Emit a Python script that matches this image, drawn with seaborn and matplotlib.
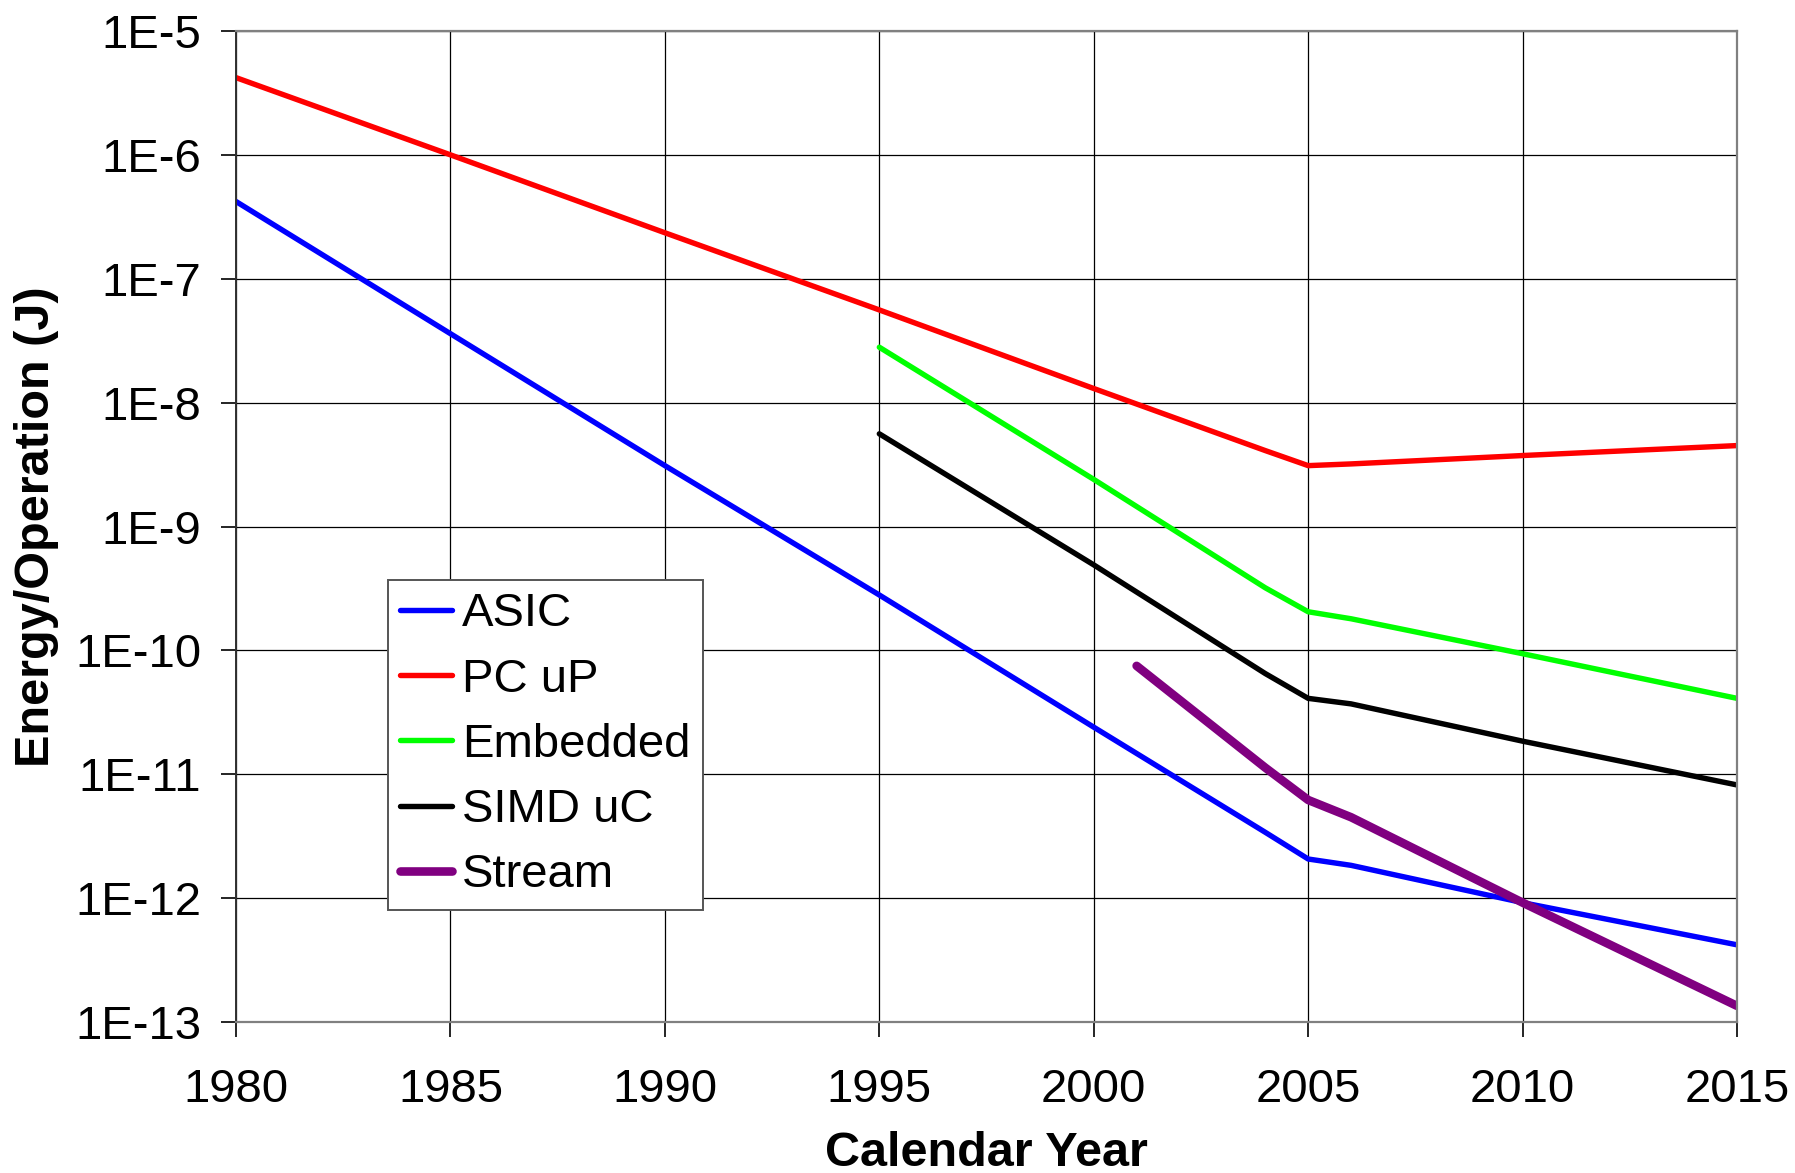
import matplotlib
matplotlib.use("Agg")
import matplotlib.pyplot as plt
import matplotlib.ticker as mticker
import numpy as np
import pandas as pd
import seaborn as sns

# Energy per operation (J) by calendar year for each processor class
asic_years = [1980, 1985, 1990, 1995, 2000, 2004, 2005, 2006, 2010, 2015]
asic_energy = [4.2e-7, 3.6e-8, 3.1e-9, 2.8e-10, 2.4e-11, 3.4e-12, 2.07e-12, 1.84e-12, 9.2e-13, 4.2e-13]

pc_years = [1980, 1985, 1990, 1995, 2000, 2004, 2005, 2006, 2010, 2015]
pc_energy = [4.2e-6, 1.0e-6, 2.35e-7, 5.6e-8, 1.3e-8, 4.1e-9, 3.1e-9, 3.2e-9, 3.74e-9, 4.5e-9]

emb_years = [1995, 2000, 2004, 2005, 2006, 2010, 2015]
emb_energy = [2.8e-8, 2.4e-9, 3.2e-10, 2.05e-10, 1.8e-10, 9.4e-11, 4.1e-11]

simd_years = [1995, 2000, 2004, 2005, 2006, 2010, 2015]
simd_energy = [5.6e-9, 4.9e-10, 6.5e-11, 4.1e-11, 3.7e-11, 1.85e-11, 8.2e-12]

stream_years = [2001, 2004, 2005, 2006, 2010, 2015]
stream_energy = [7.5e-11, 1.13e-11, 6.2e-12, 4.5e-12, 9.2e-13, 1.35e-13]

series_names = ["ASIC", "PC uP", "Embedded", "SIMD uC", "Stream"]
series_colors = ["#0000FF", "#FF0000", "#00FF00", "#000000", "#800080"]
series_widths = [3.9, 3.9, 3.9, 3.9, 6.2]

x_ticks = [1980, 1985, 1990, 1995, 2000, 2005, 2010, 2015]
y_ticks = [1e-13, 1e-12, 1e-11, 1e-10, 1e-9, 1e-8, 1e-7, 1e-6, 1e-5]
y_tick_labels = ["1E-13", "1E-12", "1E-11", "1E-10", "1E-9", "1E-8", "1E-7", "1E-6", "1E-5"]

frames = []
for name, yrs, vals in zip(series_names,
                           [asic_years, pc_years, emb_years, simd_years, stream_years],
                           [asic_energy, pc_energy, emb_energy, simd_energy, stream_energy]):
    frames.append(pd.DataFrame({"year": yrs, "energy": vals, "series": name}))
df = pd.concat(frames, ignore_index=True)

sns.set_style("white")
plt.rcParams["font.family"] = ["Liberation Sans", "DejaVu Sans"]
plt.rcParams["text.color"] = "black"
plt.rcParams["axes.labelcolor"] = "black"
plt.rcParams["xtick.color"] = "black"
plt.rcParams["ytick.color"] = "black"

fig = plt.figure(figsize=(17.95, 11.73), dpi=100)
ax = fig.add_axes([0.1315, 0.1287, 0.8362, 0.8449])

for name, color, lw in zip(series_names, series_colors, series_widths):
    sub = df[df["series"] == name]
    sns.lineplot(data=sub, x="year", y="energy", color=color, linewidth=lw,
                 label=name, ax=ax, solid_capstyle="round", solid_joinstyle="round")

ax.set_yscale("log")
ax.set_xlim(1980, 2015)
ax.set_ylim(1e-13, 1e-5)
ax.set_xticks(x_ticks)
ax.set_xticklabels([str(t) for t in x_ticks])
ax.yaxis.set_major_locator(mticker.FixedLocator(y_ticks))
ax.yaxis.set_major_formatter(mticker.FixedFormatter(y_tick_labels))
ax.yaxis.set_minor_locator(mticker.NullLocator())

ax.grid(True, which="major", color="#000000", linewidth=0.9)
ax.set_axisbelow(True)

ax.tick_params(axis="both", which="major", labelsize=34, length=11, width=1.2,
               direction="out", color="#000000", labelcolor="black")
ax.tick_params(axis="y", pad=14, left=True)
ax.tick_params(axis="x", pad=22, bottom=True)

for side in ["top", "right", "bottom"]:
    ax.spines[side].set_color("#808080")
    ax.spines[side].set_linewidth(1.6)
ax.spines["left"].set_color("#303030")
ax.spines["left"].set_linewidth(1.4)

ax.set_xlabel("Calendar Year", fontsize=35, fontweight="bold", color="black")
ax.xaxis.set_label_coords(0.5, -0.110)
ax.set_ylabel("Energy/Operation (J)", fontsize=35, fontweight="bold", color="black")
ax.yaxis.set_label_coords(-0.118, 0.5)

leg = ax.legend(loc="lower left", bbox_to_anchor=(0.101, 0.113), borderaxespad=0,
                fontsize=34, frameon=True, fancybox=False, handlelength=1.09,
                handletextpad=0.22, labelspacing=0.45, borderpad=0.27)
leg.get_frame().set_edgecolor("#555555")
leg.get_frame().set_linewidth(1.4)
leg.get_frame().set_alpha(1.0)
for t in leg.get_texts():
    t.set_color("black")

fig.savefig("out.png", dpi=100)
